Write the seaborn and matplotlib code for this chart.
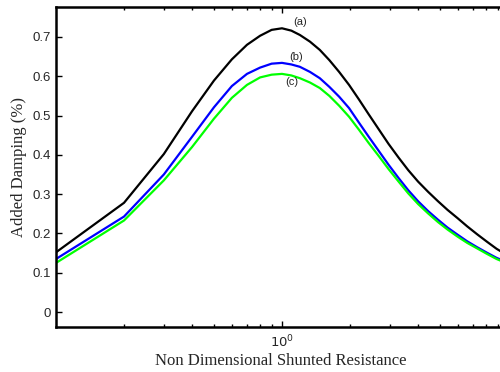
import numpy as np
import pandas as pd
import matplotlib
matplotlib.use("Agg")
import matplotlib.pyplot as plt
import seaborn as sns
from matplotlib.ticker import FixedLocator, NullFormatter, FixedFormatter

# Data
resistance = [0.1, 0.2, 0.3, 0.4, 0.5, 0.6, 0.7, 0.8, 0.9, 1.0,
              1.1, 1.2, 1.33, 1.47, 1.62, 1.79, 1.98, 2.19, 2.42, 2.68,
              2.96, 3.28, 3.62, 4.0, 4.43, 4.9, 5.4, 5.98, 6.6, 7.3,
              8.07, 8.9, 9.7]
damping_a = [0.152, 0.278, 0.402, 0.511, 0.589, 0.643, 0.680, 0.703, 0.718, 0.722,
             0.716, 0.705, 0.688, 0.667, 0.641, 0.611, 0.578, 0.541, 0.503, 0.465,
             0.428, 0.393, 0.361, 0.332, 0.306, 0.282, 0.260, 0.239, 0.218, 0.198,
             0.179, 0.161, 0.148]
damping_b = [0.135, 0.243, 0.350, 0.446, 0.521, 0.575, 0.606, 0.622, 0.632, 0.634,
             0.630, 0.624, 0.611, 0.595, 0.573, 0.548, 0.519, 0.482, 0.446, 0.410,
             0.375, 0.341, 0.310, 0.282, 0.257, 0.235, 0.215, 0.197, 0.180, 0.165,
             0.151, 0.138, 0.129]
damping_c = [0.125, 0.233, 0.335, 0.420, 0.492, 0.545, 0.578, 0.597, 0.604, 0.606,
             0.602, 0.595, 0.584, 0.570, 0.550, 0.525, 0.497, 0.464, 0.430, 0.397,
             0.364, 0.332, 0.302, 0.275, 0.251, 0.229, 0.210, 0.192, 0.176, 0.162,
             0.148, 0.135, 0.126]
series_names = ["(a)", "(b)", "(c)"]
series_colors = ["#000000", "#0000ff", "#00ff00"]
label_pos = [(1.2, 0.738), (1.15, 0.649), (1.1, 0.585)]

y_ticks = [0, 0.1, 0.2, 0.3, 0.4, 0.5, 0.6, 0.7]
y_ticklabels = ["0", "0.1", "0.2", "0.3", "0.4", "0.5", "0.6", "0.7"]

df = pd.concat([
    pd.DataFrame({"R": resistance, "D": vals, "case": name})
    for name, vals in zip(series_names, [damping_a, damping_b, damping_c])
])

sns.set_style("ticks")
plt.rcParams["font.family"] = ["Liberation Sans", "DejaVu Sans"]

fig = plt.figure(figsize=(5.0, 3.72), dpi=100)
ax = fig.add_axes([0.112, 0.121, 0.898, 0.860])

sns.lineplot(data=df, x="R", y="D", hue="case", palette=series_colors,
             hue_order=series_names, linewidth=1.6, legend=False, ax=ax,
             sort=True, estimator=None)

ax.set_xscale("log")
ax.set_xlim(0.1, 9.7)
ax.set_ylim(-0.038, 0.776)

ax.xaxis.set_major_locator(FixedLocator([1.0]))
ax.xaxis.set_major_formatter(FixedFormatter([r"$10^0$"]))
minors = [0.2, 0.3, 0.4, 0.5, 0.6, 0.7, 0.8, 0.9, 2, 3, 4, 5, 6, 7, 8, 9]
ax.xaxis.set_minor_locator(FixedLocator(minors))
ax.xaxis.set_minor_formatter(NullFormatter())
ax.set_yticks(y_ticks)
ax.set_yticklabels(y_ticklabels)

ax.tick_params(which="both", direction="in", top=True, right=False,
               labelsize=9.5, width=1.0, color="black")
ax.tick_params(which="major", length=4)
ax.tick_params(which="minor", length=2)
ax.tick_params(axis="x", pad=5)

for name, sp in ax.spines.items():
    sp.set_visible(name != "right")
    sp.set_linewidth(1.8)
    sp.set_color("black")

ax.set_xlabel("Non Dimensional Shunted Resistance", family=["Liberation Serif"],
              fontsize=12, labelpad=2)
ax.set_ylabel("Added Damping (%)", family=["Liberation Serif"], fontsize=12, labelpad=4)

for name, (xx, yy) in zip(series_names, label_pos):
    ax.text(xx, yy, name, fontsize=8, ha="center", va="center")

fig.savefig("out.png", dpi=100)
